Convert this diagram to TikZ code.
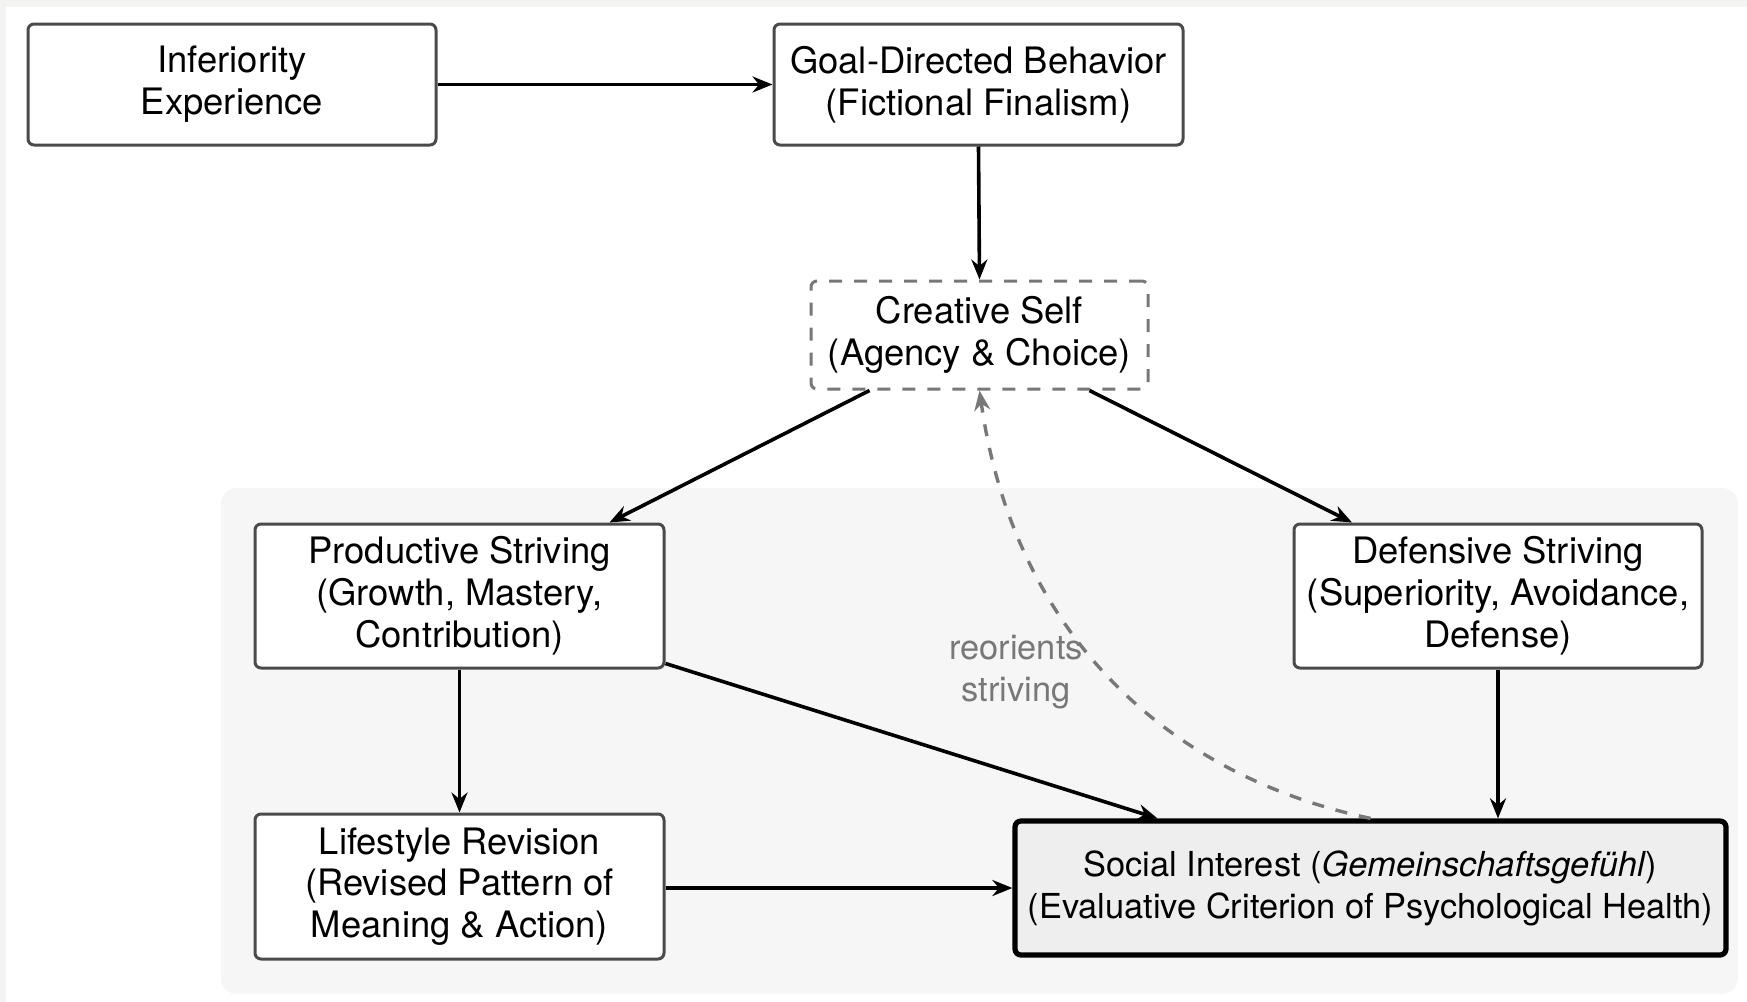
\documentclass[tikz,border=0pt]{standalone}
\usepackage{fontspec}
\setmainfont{TeX Gyre Heros}
\usetikzlibrary{arrows.meta}
\definecolor{bordc}{HTML}{4A4A4A}
\definecolor{dashc}{HTML}{787878}
\definecolor{panelc}{HTML}{F6F6F6}
\definecolor{socc}{HTML}{EEEEEE}
\definecolor{edgec}{HTML}{F3F4F2}
\tikzset{
  box/.style={rectangle, rounded corners=3pt, draw=bordc, line width=1.5pt, fill=white,
    align=center, inner sep=0pt, font=\fontsize{18.2}{20.9}\selectfont},
  flow/.style={-{Stealth[length=10pt,width=8pt]}, line width=1.8pt, black},
  back/.style={-{Stealth[length=10pt,width=8pt]}, line width=1.7pt, dashc, dash pattern=on 6pt off 6pt},
  lbl/.style={text=dashc, align=center, font=\fontsize{17.2}{20.9}\selectfont},
}
\begin{document}
\begin{tikzpicture}[x=0.5pt,y=-0.5pt]
\useasboundingbox (0,0) rectangle (1747,1002);
\fill[edgec] (0,0) rectangle (1747,1002);
\fill[white] (6,7) rectangle (1747,1002);
\fill[panelc, rounded corners=8pt] (221,488) rectangle (1738,994);

\node[box, minimum width=204pt, minimum height=60.5pt] (inf) at (232,84.5) {Inferiority\\Experience};
\node[box, minimum width=204.5pt, minimum height=60.5pt] (goal) at (978.5,84.5) {Goal-Directed Behavior\\(Fictional Finalism)};
\node[box, minimum width=168.5pt, minimum height=54pt, draw=dashc, dash pattern=on 6.5pt off 6pt] (cs) at (979.5,335) {Creative Self\\(Agency \& Choice)};
\node[box, minimum width=204.5pt, minimum height=72pt] (prod) at (459.5,596) {Productive Striving\\(Growth, Mastery,\\Contribution)};
\node[box, minimum width=204pt, minimum height=72pt] (def) at (1498,596) {Defensive Striving\\(Superiority, Avoidance,\\Defense)};
\node[box, minimum width=204.5pt, minimum height=72.5pt] (life) at (459.5,886.5) {Lifestyle Revision\\(Revised Pattern of\\Meaning \& Action)};
\node[box, minimum width=355.5pt, minimum height=67pt, fill=socc, draw=black, line width=2.6pt, font=\fontsize{17.2}{20.9}\selectfont] (soc) at (1370.5,888) {Social Interest (\textit{Gemeinschaftsgefühl})\\(Evaluative Criterion of Psychological Health)};

\draw[flow] (inf.east) -- (goal.west);
\draw[flow] (goal.south) -- (cs.north);
\draw[flow] ([xshift=-55pt]cs.south) -- ([xshift=75pt]prod.north);
\draw[flow] ([xshift=55pt]cs.south) -- ([xshift=-73pt]def.north);
\draw[flow] ([yshift=3pt]prod.south east) -- ([xshift=-106.5pt]soc.north);
\draw[flow] (prod.south) -- (life.north);
\draw[flow] (def.south) -- (def.south |- soc.north);
\draw[flow] (life.east |- soc.west) -- (soc.west);
\draw[back] (soc.north) to[out=168,in=-82] (cs.south);
\node[lbl] (lab) at (1016,672) {reorients\\striving};
\end{tikzpicture}
\end{document}
